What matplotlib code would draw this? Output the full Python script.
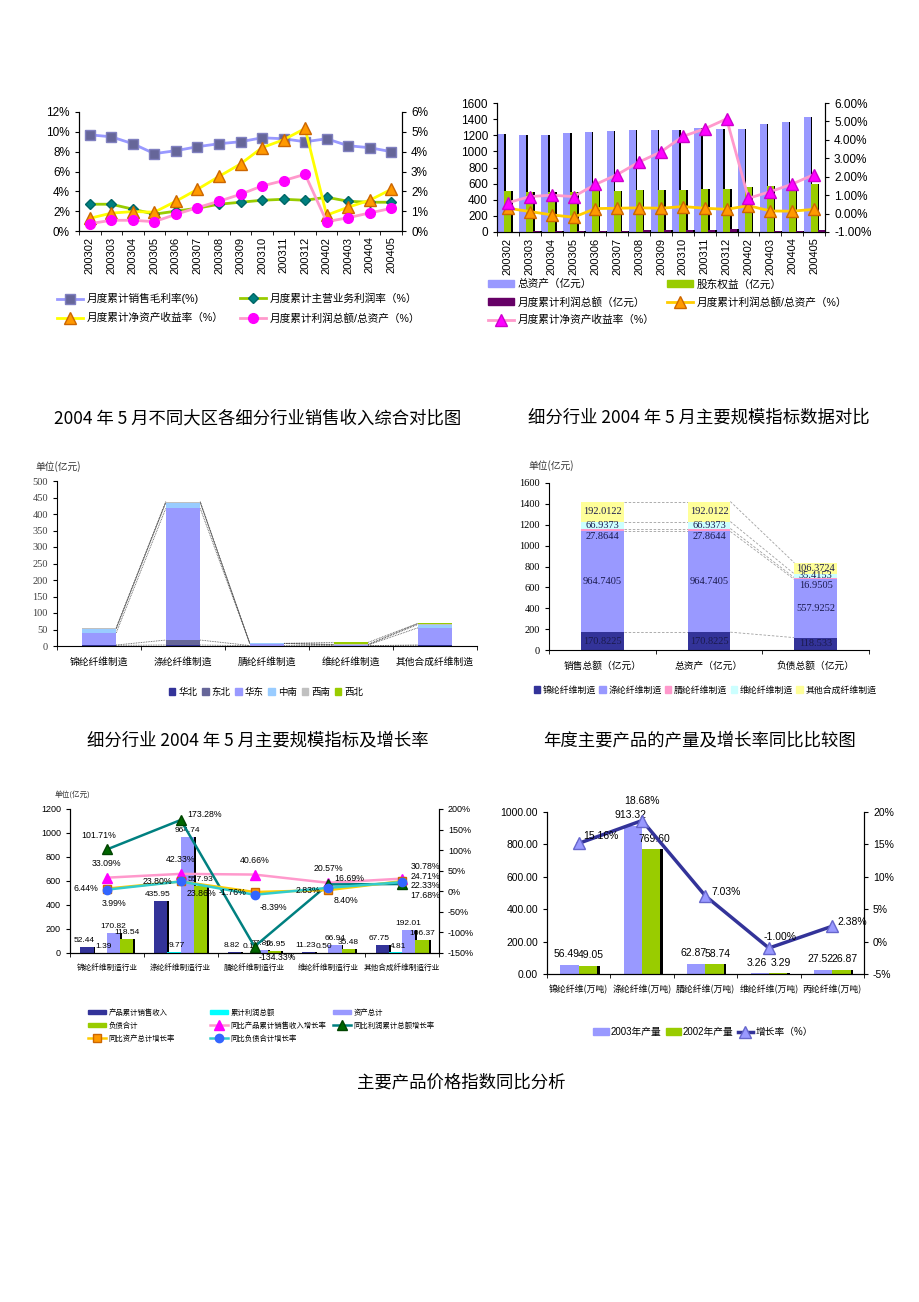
import matplotlib
matplotlib.use('Agg')
import matplotlib.pyplot as plt
import numpy as np
from matplotlib.patches import Patch
from matplotlib.ticker import FuncFormatter

plt.rcParams['font.family'] = ['Liberation Sans', 'Noto Sans CJK SC']
plt.rcParams['axes.unicode_minus'] = False

SANS = ['Liberation Sans', 'Noto Sans CJK SC']
SERIF = ['Liberation Serif', 'Noto Sans CJK SC']
CJK = ['Noto Sans CJK SC', 'Liberation Sans']

# ---------------- data: chart 1 (top-left) ----------------
months = ['200302', '200303', '200304', '200305', '200306', '200307', '200308',
          '200309', '200310', '200311', '200312', '200402', '200403', '200404', '200405']
gross_margin = [9.7, 9.5, 8.8, 7.8, 8.1, 8.5, 8.8, 9.0, 9.4, 9.3, 9.0, 9.3, 8.6, 8.4, 8.0]
main_margin = [2.7, 2.7, 2.2, 1.7, 2.0, 2.3, 2.7, 2.9, 3.1, 3.2, 3.1, 3.4, 3.0, 2.9, 2.9]
roe_1 = [0.64, 0.9, 0.98, 0.95, 1.5, 2.1, 2.75, 3.38, 4.2, 4.6, 5.17, 0.8, 1.2, 1.55, 2.1]
profit_asset_1 = [0.37, 0.54, 0.54, 0.47, 0.84, 1.18, 1.5, 1.85, 2.27, 2.54, 2.86, 0.47, 0.67, 0.91, 1.14]

# ---------------- data: chart 2 (top-right) ----------------
total_assets = [1217, 1209, 1209, 1225, 1238, 1250, 1271, 1271, 1271, 1287, 1275, 1275, 1341, 1361, 1423]
equity = [510, 494, 494, 502, 522, 510, 522, 522, 522, 530, 530, 559, 568, 576, 600]
profit_sum = [3, 7, 10, 12, 14, 16, 20, 25, 28, 30, 32, 5, 10, 15, 20]
profit_asset_2 = [0.29, 0.11, -0.07, -0.2, 0.27, 0.29, 0.31, 0.29, 0.38, 0.29, 0.23, 0.43, 0.14, 0.13, 0.23]
roe_2 = [0.59, 0.92, 1.0, 0.92, 1.58, 2.12, 2.8, 3.35, 4.19, 4.6, 5.14, 0.83, 1.19, 1.6, 2.12]

# ---------------- data: chart 3 (middle-left) ----------------
fiber_industries = ['锦纶纤维制造', '涤纶纤维制造', '腈纶纤维制造', '维纶纤维制造', '其他合成纤维制造']
regions = ['华北', '东北', '华东', '中南', '西南', '西北']
r_north = [2, 3, 1, 1, 2]
r_northeast = [1, 15, 0.5, 0.2, 1]
r_east = [37, 399, 6, 2, 52]
r_central = [12, 17, 0.3, 1, 10]
r_southwest = [3, 3, 0.2, 0.8, 3]
r_northwest = [0, 0, 0, 6, 0.5]

# ---------------- data: chart 4 (middle-right) ----------------
metrics = ['销售总额（亿元）', '总资产（亿元）', '负债总额（亿元）']
fiber_kinds = ['锦纶纤维制造', '涤纶纤维制造', '腈纶纤维制造', '维纶纤维制造', '其他合成纤维制造']
m_jinlun = [170.8225, 170.8225, 118.533]
m_dilun = [964.7405, 964.7405, 557.9252]
m_jinglun = [27.8644, 27.8644, 16.9505]
m_weilun = [66.9373, 66.9373, 35.4153]
m_other = [192.0122, 192.0122, 106.3724]

# ---------------- data: chart 5 (bottom-left) ----------------
industries = ['锦纶纤维制造行业', '涤纶纤维制造行业', '腈纶纤维制造行业', '维纶纤维制造行业', '其他合成纤维制造行业']
sales_rev = [52.44, 435.95, 8.82, 11.23, 67.75]
profit_total = [1.39, 9.77, 0.19, 0.50, 4.81]
assets_total = [170.82, 964.74, 27.86, 66.94, 192.01]
liab_total = [118.54, 557.93, 16.95, 35.48, 106.37]
sales_growth = [33.09, 42.33, 40.66, 20.57, 30.78]
profit_growth = [101.71, 173.28, -134.33, 16.69, 17.68]
asset_growth = [6.44, 23.80, -1.76, 2.83, 24.71]
liab_growth = [3.99, 23.86, -8.39, 8.40, 22.33]

# ---------------- data: chart 6 (bottom-right) ----------------
fibers = ['锦纶纤维(万吨)', '涤纶纤维(万吨)', '腈纶纤维(万吨)', '维纶纤维(万吨)', '丙纶纤维(万吨)']
out_2003 = [56.49, 913.32, 62.87, 3.26, 27.52]
out_2002 = [49.05, 769.60, 58.74, 3.29, 26.87]
growth = [15.16, 18.68, 7.03, -1.00, 2.38]

# ======================================================================
W, H = 920, 1302
fig = plt.figure(figsize=(W / 100, H / 100), dpi=100)
fig.patch.set_facecolor('white')


def ax_at(x0, y0, x1, y1):
    return fig.add_axes([x0 / W, 1 - y1 / H, (x1 - x0) / W, (y1 - y0) / H])


def style_cat_axis(ax, n, labels, fs, rot=0, fam=SANS):
    ax.set_xlim(-0.5, n - 0.5)
    ax.set_xticks(np.arange(n))
    ax.set_xticklabels(labels, rotation=rot, fontsize=fs, family=fam)
    ax.set_xticks(np.arange(n + 1) - 0.5, minor=True)
    ax.tick_params(axis='x', which='major', length=0, pad=4)
    ax.tick_params(axis='x', which='minor', length=3, direction='out')


def fig_title(x, y, s):
    fig.text(x / W, 1 - y / H, s, ha='center', va='center', fontsize=12.5, family=CJK)


def col_legend(handles, labels, x, y_top, fs, ls, hl=2.4, hh=0.6):
    fig.legend(handles, labels, loc='upper left', bbox_to_anchor=(x / W, 1 - y_top / H),
               ncol=1, frameon=False, fontsize=fs, handlelength=hl, handleheight=hh,
               labelspacing=ls, handletextpad=0.4, borderpad=0, borderaxespad=0)


# ---------------- chart 1 ----------------
ax1 = ax_at(79, 112, 402, 231)
x = np.arange(len(months))
l1, = ax1.plot(x, gross_margin, color='#9999FF', lw=2, marker='s', ms=6.5,
               mfc='#666699', mec='#8080C0', zorder=3)
l2, = ax1.plot(x, main_margin, color='#99CC00', lw=2, marker='D', ms=5.5,
               mfc='#008080', mec='#006666', zorder=3)
ax1r = ax1.twinx()
l3, = ax1r.plot(x, roe_1, color='#FFFF00', lw=2, marker='^', ms=8,
                mfc='#FF9900', mec='#CC6600', zorder=3)
l4, = ax1r.plot(x, profit_asset_1, color='#FF99CC', lw=2, marker='o', ms=7,
                mfc='#FF00FF', mec='#FF00FF', zorder=3)
ax1.set_ylim(0, 12)
ax1r.set_ylim(0, 6)
ax1.set_yticks(np.arange(0, 13, 2))
ax1r.set_yticks(np.arange(0, 7, 1))
ax1.yaxis.set_major_formatter(FuncFormatter(lambda v, p: f'{v:.0f}%'))
ax1r.yaxis.set_major_formatter(FuncFormatter(lambda v, p: f'{v:.0f}%'))
style_cat_axis(ax1, len(months), months, 8, rot=90)
for a in (ax1, ax1r):
    a.spines['top'].set_visible(False)
    a.tick_params(axis='y', labelsize=8.5, length=3, direction='out')
col_legend([l1, l3], ['月度累计销售毛利率(%)', '月度累计净资产收益率（%）'], 57, 293, 7.7, 0.85)
col_legend([l2, l4], ['月度累计主营业务利润率（%）', '月度累计利润总额/总资产（%）'], 240, 293, 7.7, 0.85)

# ---------------- chart 2 ----------------
ax2 = ax_at(497, 103, 825, 232)
bw = 0.32
sh = 0.07
ax2.bar(x - bw + sh, total_assets, bw, color='black', zorder=1)
ax2.bar(x - bw, total_assets, bw, color='#9999FF', zorder=2)
ax2.bar(x + sh, equity, bw, color='black', zorder=3)
ax2.bar(x, equity, bw, color='#99CC00', zorder=4)
ax2.bar(x + bw + sh, profit_sum, bw, color='black', zorder=5)
ax2.bar(x + bw, profit_sum, bw, color='#660066', zorder=6)
ax2.set_ylim(0, 1600)
ax2.set_yticks(np.arange(0, 1601, 200))
ax2r = ax2.twinx()
l5, = ax2r.plot(x, profit_asset_2, color='#FFCC00', lw=2, marker='^', ms=8,
                mfc='#FF9900', mec='#CC6600', zorder=3)
l6, = ax2r.plot(x, roe_2, color='#FF99CC', lw=2, marker='^', ms=9,
                mfc='#FF00FF', mec='#CC00CC', zorder=3)
ax2r.set_ylim(-1, 6)
ax2r.set_yticks(np.arange(-1, 7, 1))
ax2r.yaxis.set_major_formatter(FuncFormatter(lambda v, p: f'{v:.2f}%'))
style_cat_axis(ax2, len(months), months, 8, rot=90)
for a in (ax2, ax2r):
    a.spines['top'].set_visible(False)
    a.tick_params(axis='y', labelsize=8.5, length=3, direction='out')
col_legend([Patch(color='#9999FF'), Patch(color='#660066'), l6],
           ['总资产（亿元）', '月度累计利润总额（亿元）', '月度累计净资产收益率（%）'],
           488, 279, 7.7, 0.7)
col_legend([Patch(color='#99CC00'), l5], ['股东权益（亿元）', '月度累计利润总额/总资产（%）'],
           667, 279, 7.7, 0.7)

# ---------------- chart 3 ----------------
ax3 = ax_at(57, 481, 477, 646)
n3 = len(fiber_industries)
x3 = np.arange(n3)
w3 = 0.41
series3 = [r_north, r_northeast, r_east, r_central, r_southwest, r_northwest]
colors3 = ['#333399', '#666699', '#9999FF', '#99CCFF', '#C0C0C0', '#99CC00']
bottom = np.zeros(n3)
levels = []
for vals, c in zip(series3, colors3):
    ax3.bar(x3, vals, w3, bottom=bottom, color=c, zorder=2)
    bottom = bottom + np.array(vals)
    levels.append(bottom.copy())
for lev in levels:
    for i in range(n3 - 1):
        ax3.plot([x3[i] + w3 / 2, x3[i + 1] - w3 / 2], [lev[i], lev[i + 1]],
                 color='#505050', lw=0.6, ls=(0, (1, 1)), zorder=1)
ax3.set_ylim(0, 500)
ax3.set_yticks(np.arange(0, 501, 50))
style_cat_axis(ax3, n3, fiber_industries, 7, fam=CJK)
ax3.tick_params(axis='x', which='major', pad=8)
ax3.tick_params(axis='y', labelsize=7.5, length=3, direction='out', labelcolor='#404040')
for lbl in ax3.get_yticklabels():
    lbl.set_family(SERIF)
for s in ('top', 'right'):
    ax3.spines[s].set_visible(False)
fig.text(35 / W, 1 - 467 / H, '单位(亿元)', fontsize=7, family=CJK, va='center', color='#333333')
fig.legend([Patch(color=c) for c in colors3], regions, loc='center',
           bbox_to_anchor=(266 / W, 1 - 692 / H), ncol=6, frameon=False, fontsize=6.8,
           handlelength=0.7, handleheight=0.7, handletextpad=0.3, columnspacing=0.5)

# ---------------- chart 4 ----------------
ax4 = ax_at(549, 483, 869, 650)
n4 = len(metrics)
x4 = np.arange(n4)
w4 = 0.4
series4 = [m_jinlun, m_dilun, m_jinglun, m_weilun, m_other]
colors4 = ['#333399', '#9999FF', '#FF99CC', '#CCFFFF', '#FFFF99']
label_shift4 = [0, 0, -5, 0, 0]
bottom = np.zeros(n4)
levels4 = []
for k, (vals, c) in enumerate(zip(series4, colors4)):
    ax4.bar(x4, vals, w4, bottom=bottom, color=c, zorder=2)
    for i, v in enumerate(vals):
        ax4.annotate(str(v), (x4[i], bottom[i] + v / 2), xytext=(0, label_shift4[k]),
                     textcoords='offset points', ha='center', va='center',
                     fontsize=7.5, family=SERIF, color='#1a1a4d', zorder=4)
    bottom = bottom + np.array(vals)
    levels4.append(bottom.copy())
for lev in levels4:
    for i in range(n4 - 1):
        ax4.plot([x4[i] + w4 / 2, x4[i + 1] - w4 / 2], [lev[i], lev[i + 1]],
                 color='#A0A0A0', lw=0.6, ls=(0, (3, 2)), zorder=1)
ax4.set_ylim(0, 1600)
ax4.set_yticks(np.arange(0, 1601, 200))
style_cat_axis(ax4, n4, metrics, 7, fam=CJK)
ax4.tick_params(axis='x', which='major', pad=8)
ax4.tick_params(axis='y', labelsize=7.5, length=3, direction='out')
for lbl in ax4.get_yticklabels():
    lbl.set_family(SERIF)
for s in ('top', 'right'):
    ax4.spines[s].set_visible(False)
fig.text(528 / W, 1 - 466 / H, '单位(亿元)', fontsize=7, family=CJK, va='center', color='#333333')
fig.legend([Patch(color=c) for c in colors4], fiber_kinds, loc='center',
           bbox_to_anchor=(705 / W, 1 - 690 / H), ncol=5, frameon=False, fontsize=6.4,
           handlelength=0.7, handleheight=0.7, handletextpad=0.3, columnspacing=0.4)

# ---------------- chart 5 ----------------
ax5 = ax_at(70, 809, 439, 953)
n5 = len(industries)
x5 = np.arange(n5)
w5 = 0.18
bar_series5 = [sales_rev, profit_total, assets_total, liab_total]
colors5 = ['#333399', '#00FFFF', '#9999FF', '#99CC00']
offs5 = [-0.27, -0.09, 0.09, 0.27]
label_dx5 = [-2, 2, 0, 0]
for vals, c, o, dx in zip(bar_series5, colors5, offs5, label_dx5):
    ax5.bar(x5 + o + 0.025, vals, w5, color='black', zorder=1)
    ax5.bar(x5 + o, vals, w5, color=c, zorder=2)
    for i, v in enumerate(vals):
        ax5.annotate(f'{v:.2f}', (x5[i] + o, v), xytext=(dx, 2), textcoords='offset points',
                     ha='center', va='bottom', fontsize=6, zorder=5)
ax5.set_ylim(0, 1200)
ax5.set_yticks(np.arange(0, 1201, 200))
ax5r = ax5.twinx()
ln_sales, = ax5r.plot(x5, sales_growth, color='#FF99CC', lw=1.8, marker='^', ms=7,
                      mfc='#FF00FF', mec='#FF00FF', zorder=3)
ln_profit, = ax5r.plot(x5, profit_growth, color='#008080', lw=1.8, marker='^', ms=7,
                       mfc='#006600', mec='#004400', zorder=3)
ln_asset, = ax5r.plot(x5, asset_growth, color='#FFCC00', lw=1.8, marker='s', ms=6,
                      mfc='#FF9900', mec='#CC6600', zorder=3)
ln_liab, = ax5r.plot(x5, liab_growth, color='#33CCCC', lw=1.8, marker='o', ms=6,
                     mfc='#3366FF', mec='#3366FF', zorder=3)
ax5r.set_ylim(-150, 200)
ax5r.set_yticks(np.arange(-150, 201, 50))
ax5r.yaxis.set_major_formatter(FuncFormatter(lambda v, p: f'{v:.0f}%'))
# label placement (offset in points, horizontal alignment) per point
place_sales = [((0, 10), 'center'), ((0, 10), 'center'), ((0, 10), 'center'),
               ((0, 10), 'center'), ((6, 9), 'left')]
place_profit = [((-6, 10), 'center'), ((5, 4), 'left'), ((3, -8), 'left'),
                ((4, 4), 'left'), ((6, -8), 'left')]
place_asset = [((-6, 0), 'right'), ((-6, 0), 'right'), ((-6, 0), 'right'),
               ((-6, 0), 'right'), ((6, 3), 'left')]
place_liab = [((-4, -10), 'left'), ((4, -9), 'left'), ((4, -9), 'left'),
              ((4, -9), 'left'), ((6, -2.5), 'left')]
for vals, places in [(sales_growth, place_sales), (profit_growth, place_profit),
                     (asset_growth, place_asset), (liab_growth, place_liab)]:
    for i, v in enumerate(vals):
        off, ha = places[i]
        ax5r.annotate(f'{v:.2f}%', (x5[i], v), xytext=off, textcoords='offset points',
                      ha=ha, va='center', fontsize=6.3, zorder=6)
style_cat_axis(ax5, n5, industries, 5.5, fam=CJK)
ax5.tick_params(axis='x', which='major', pad=8)
for a in (ax5, ax5r):
    a.spines['top'].set_visible(False)
    a.tick_params(axis='y', labelsize=6.5, length=3, direction='out')
fig.text(55 / W, 1 - 795 / H, '单位(亿元)', fontsize=5.5, family=CJK, va='center', color='#333333')
col_legend([Patch(color='#333399'), Patch(color='#99CC00'), ln_asset],
           ['产品累计销售收入', '负债合计', '同比资产总计增长率'], 88, 1009, 5.3, 0.75, hl=2.4)
col_legend([Patch(color='#00FFFF'), ln_sales, ln_liab],
           ['累计利润总额', '同比产品累计销售收入增长率', '同比负债合计增长率'], 210, 1009, 5.3, 0.75, hl=2.4)
col_legend([Patch(color='#9999FF'), ln_profit],
           ['资产总计', '同比利润累计总额增长率'], 333, 1009, 5.3, 0.75, hl=2.4)

# ---------------- chart 6 ----------------
ax6 = ax_at(547, 812, 864, 974)
n6 = len(fibers)
x6 = np.arange(n6)
w6 = 0.29
ax6.bar(x6 + w6 / 2 + 0.04, out_2002, w6, color='black', zorder=1)
ax6.bar(x6 - w6 / 2, out_2003, w6, color='#9999FF', zorder=2)
ax6.bar(x6 + w6 / 2, out_2002, w6, color='#99CC00', zorder=2)
for i in range(n6):
    ax6.annotate(f'{out_2003[i]:.2f}', (x6[i] - w6 / 2, out_2003[i]), xytext=(-2, 4),
                 textcoords='offset points', ha='center', va='bottom', fontsize=7.5, zorder=5)
    ax6.annotate(f'{out_2002[i]:.2f}', (x6[i] + w6 / 2, out_2002[i]), xytext=(2, 4),
                 textcoords='offset points', ha='center', va='bottom', fontsize=7.5, zorder=5)
ax6.set_ylim(0, 1000)
ax6.set_yticks(np.arange(0, 1001, 200))
ax6.yaxis.set_major_formatter(FuncFormatter(lambda v, p: f'{v:.2f}'))
ax6r = ax6.twinx()
ln_g, = ax6r.plot(x6, growth, color='#333399', lw=2.5, marker='^', ms=9,
                  mfc='#9999FF', mec='#6666CC', zorder=3)
growth_label_pos = [((3, 5), 'left'), ((0, 14), 'center'), ((4, 3), 'left'),
                    ((-4, 8), 'left'), ((4, 3), 'left')]
for i, v in enumerate(growth):
    off, ha = growth_label_pos[i]
    ax6r.annotate(f'{v:.2f}%', (x6[i], v), xytext=off, textcoords='offset points',
                  ha=ha, va='center', fontsize=7.5, zorder=6)
ax6r.set_ylim(-5, 20)
ax6r.set_yticks(np.arange(-5, 21, 5))
ax6r.yaxis.set_major_formatter(FuncFormatter(lambda v, p: f'{v:.0f}%'))
style_cat_axis(ax6, n6, fibers, 6.4, fam=CJK)
ax6.tick_params(axis='x', which='major', pad=8)
for a in (ax6, ax6r):
    a.spines['top'].set_visible(False)
    a.tick_params(axis='y', labelsize=7.5, length=3, direction='out')
fig.legend([Patch(color='#9999FF'), Patch(color='#99CC00'), ln_g],
           ['2003年产量', '2002年产量', '增长率（%）'], loc='center',
           bbox_to_anchor=(703 / W, 1 - 1032 / H), ncol=3, frameon=False, fontsize=7,
           handlelength=1.6, handleheight=0.7, handletextpad=0.2, columnspacing=0.4)

# ---------------- titles ----------------
fig_title(258, 418, '2004 年 5 月不同大区各细分行业销售收入综合对比图')
fig_title(699, 418, '细分行业 2004 年 5 月主要规模指标数据对比')
fig_title(258, 740, '细分行业 2004 年 5 月主要规模指标及增长率')
fig_title(700, 740, '年度主要产品的产量及增长率同比比较图')
fig_title(461, 1083, '主要产品价格指数同比分析')

fig.savefig('out.png', dpi=100, facecolor='white')
